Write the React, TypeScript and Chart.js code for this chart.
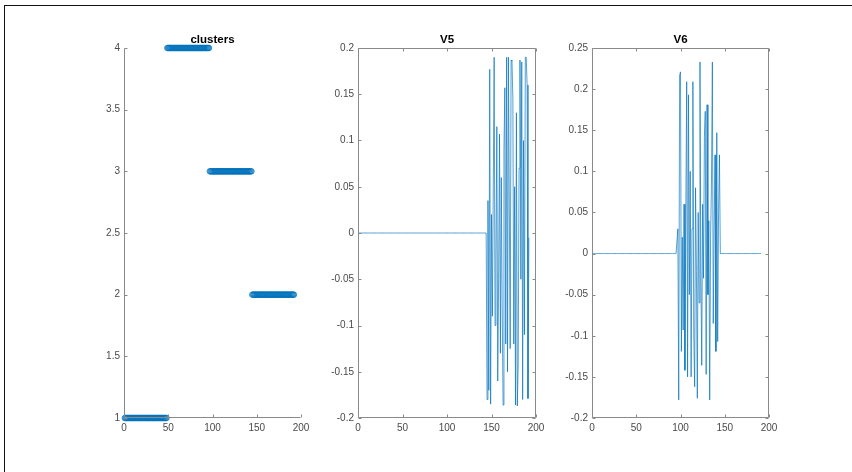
import React, { useEffect, useRef } from "react";
import { Chart, registerables } from "chart.js";

Chart.register(...registerables);

// ---------------- data ----------------
const CLUSTERS: number[] = [
  1,1,1,1,1,1,1,1,1,1,1,1, 1,1,1,1,1,1,1,1,1,1,1,1, 1,1,1,1,1,1,1,1,1,1,1,1, 1,1,1,1,1,1,1,1,1,1,1,1,
  4,4,4,4,4,4,4,4,4,4,4,4, 4,4,4,4,4,4,4,4,4,4,4,4, 4,4,4,4,4,4,4,4,4,4,4,4, 4,4,4,4,4,4,4,4,4,4,4,4,
  3,3,3,3,3,3,3,3,3,3,3,3, 3,3,3,3,3,3,3,3,3,3,3,3, 3,3,3,3,3,3,3,3,3,3,3,3, 3,3,3,3,3,3,3,3,3,3,3,3,
  2,2,2,2,2,2,2,2,2,2,2,2, 2,2,2,2,2,2,2,2,2,2,2,2, 2,2,2,2,2,2,2,2,2,2,2,2, 2,2,2,2,2,2,2,2,2,2,2,2,
];

const V5: number[] = [
  0,0,0,0,0,0,0,0,0,0,0,0, 0,0,0,0,0,0,0,0,0,0,0,0, 0,0,0,0,0,0,0,0,0,0,0,0, 0,0,0,0,0,0,0,0,0,0,0,0,
  0,0,0,0,0,0,0,0,0,0,0,0, 0,0,0,0,0,0,0,0,0,0,0,0, 0,0,0,0,0,0,0,0,0,0,0,0, 0,0,0,0,0,0,0,0,0,0,0,0,
  0,0,0,0,0,0,0,0,0,0,0,0, 0,0,0,0,0,0,0,0,0,0,0,0, 0,0,0,0,0,0,0,0,0,0,0,0, 0,0,0,0,0,0,0,0,0,0,0,0,
  -0.18, 0.035, -0.17, 0.177, -0.185, 0.02, -0.09, 0.05, 0.19, -0.10, -0.03, 0.115,
  -0.16, -0.05, 0.107, -0.13, 0.06, -0.08, -0.186, 0.09, 0.157, -0.12, 0.19, -0.15,
  0.19, 0.03, -0.125, 0.187, 0.186, 0.145, -0.12, 0.05, -0.186, 0.13, -0.187, -0.14,
  0.07, 0.187, -0.05, 0.185, -0.18, 0.10, -0.11, 0.19, 0.19, 0.16, -0.179, -0.005,
];

const V6: number[] = [
  0,0,0,0,0,0,0,0,0,0,0,0, 0,0,0,0,0,0,0,0,0,0,0,0, 0,0,0,0,0,0,0,0,0,0,0,0, 0,0,0,0,0,0,0,0,0,0,0,0,
  0,0,0,0,0,0,0,0,0,0,0,0, 0,0,0,0,0,0,0,0,0,0,0,0, 0,0,0,0,0,0,0,0,0,0,0,0, 0,0,0,0,0,0,0,0,0,0,0,0,
  0.03, -0.178, 0.217, 0.221, -0.119, 0.02, -0.093, 0.06, -0.142, 0.05, 0.209, -0.15,
  0.193, -0.05, 0.10, -0.15, 0.03, 0.209, -0.10, -0.162, 0.08, -0.022, -0.176, 0.05,
  -0.06, 0.233, -0.02, -0.136, 0.06, -0.03, 0.142, 0.173, -0.147, 0.181, -0.05, 0.04,
  -0.178, 0.02, 0.086, 0.233, -0.085, 0.03, 0.12, -0.119, 0.147, -0.107, 0.05, 0.12,
  0,0,0,0,0,0,0,0,0,0,0,0, 0,0,0,0,0,0,0,0,0,0,0,0, 0,0,0,0,0,0,0,0,0,0,0,0, 0,0,0,0,0,0,0,0,0,0,0,0,
];

const INDEX: number[] = CLUSTERS.map((_, i) => i + 1);

const X_TICKS = [0, 50, 100, 150, 200];
const CLUSTER_Y_TICKS = [1, 1.5, 2, 2.5, 3, 3.5, 4];
const V5_Y_TICKS = [-0.2, -0.15, -0.1, -0.05, 0, 0.05, 0.1, 0.15, 0.2];
const V6_Y_TICKS = [-0.2, -0.15, -0.1, -0.05, 0, 0.05, 0.1, 0.15, 0.2, 0.25];

const TITLES = ["clusters", "V5", "V6"];

// ---------------- styling ----------------
const BLUE = "#0072bd";
const AXIS = "#8a8a8a";
const LABEL = "#4a4a4a";
const FONT = "'Liberation Sans', Arial, sans-serif";

const PAD_TOP = 40;
const Y_W = 40;
const PAD_R = 20;
const X_H = 30;

const framePlugin = {
  id: "frame",
  afterDraw(chart: any, _args: any, opts: any) {
    const { ctx, chartArea: a, scales } = chart;
    const x = scales.x;
    const y = scales.y;
    const L = Math.round(a.left) + 0.5;
    const R = Math.round(a.right) - 0.5;
    const T = Math.round(a.top) + 0.5;
    const B = Math.round(a.bottom) - 0.5;
    const tl = 3;
    ctx.save();
    ctx.strokeStyle = AXIS;
    ctx.lineWidth = 1;
    ctx.beginPath();
    ctx.moveTo(L, T);
    ctx.lineTo(L, B);
    ctx.lineTo(R, B);
    if (opts.box) {
      ctx.lineTo(R, T);
      ctx.lineTo(L, T);
    }
    x.ticks.forEach((t: any) => {
      const px = Math.round(x.getPixelForValue(t.value)) + 0.5;
      ctx.moveTo(px, B);
      ctx.lineTo(px, B - tl);
      if (opts.box) {
        ctx.moveTo(px, T);
        ctx.lineTo(px, T + tl);
      }
    });
    y.ticks.forEach((t: any) => {
      const py = Math.round(y.getPixelForValue(t.value)) + 0.5;
      ctx.moveTo(L, py);
      ctx.lineTo(L + tl, py);
      if (opts.box) {
        ctx.moveTo(R, py);
        ctx.lineTo(R - tl, py);
      }
    });
    ctx.stroke();
    ctx.fillStyle = "#000";
    ctx.font = `bold 11.5px ${FONT}`;
    ctx.textAlign = "center";
    ctx.textBaseline = "alphabetic";
    ctx.fillText(opts.title, (a.left + a.right) / 2, a.top - 5);
    ctx.restore();
  },
};

const fmt = (v: number) => String(Number(Number(v).toFixed(4)));

function makeScales(yMin: number, yMax: number, yTicks: number[]) {
  return {
    x: {
      type: "linear",
      min: 0,
      max: 200,
      afterBuildTicks: (s: any) => {
        s.ticks = X_TICKS.map((v) => ({ value: v }));
      },
      afterFit: (s: any) => {
        s.height = X_H;
      },
      grid: { display: false, drawTicks: false },
      border: { display: false },
      ticks: {
        padding: 4,
        color: LABEL,
        font: { family: FONT, size: 10 },
        maxRotation: 0,
        autoSkip: false,
        callback: (v: any) => fmt(v),
      },
    },
    y: {
      type: "linear",
      min: yMin,
      max: yMax,
      afterBuildTicks: (s: any) => {
        s.ticks = yTicks.map((v) => ({ value: v }));
      },
      afterFit: (s: any) => {
        s.width = Y_W;
      },
      grid: { display: false, drawTicks: false },
      border: { display: false },
      ticks: {
        padding: 4,
        color: LABEL,
        font: { family: FONT, size: 10 },
        autoSkip: false,
        callback: (v: any) => fmt(v),
      },
    },
  };
}

type PanelProps = {
  left: number;
  right: number;
  kind: "scatter" | "line";
  values: number[];
  yMin: number;
  yMax: number;
  yTicks: number[];
  title: string;
  box: boolean;
};

function Panel(p: PanelProps) {
  const ref = useRef<HTMLCanvasElement | null>(null);
  const areaTop = 48;
  const areaBottom = 418;
  const width = p.right - p.left + Y_W + PAD_R;
  const height = PAD_TOP + (areaBottom - areaTop) + X_H;

  useEffect(() => {
    const canvas = ref.current;
    if (!canvas) return;
    const points = INDEX.map((x, i) => ({ x, y: p.values[i] }));
    const dataset: any =
      p.kind === "scatter"
        ? {
            type: "scatter",
            data: points,
            showLine: false,
            pointRadius: 2.8,
            pointBorderWidth: 0.8,
            pointBorderColor: BLUE,
            pointBackgroundColor: "rgba(0,114,189,0.1)",
            clip: false,
          }
        : {
            type: "line",
            data: points,
            borderColor: "rgba(0,114,189,0.85)",
            borderWidth: 0.8,
            pointRadius: 0,
            tension: 0,
            fill: false,
          };
    const chart = new Chart(canvas, {
      type: p.kind === "scatter" ? "scatter" : "line",
      data: { datasets: [dataset] },
      options: {
        responsive: false,
        animation: false,
        devicePixelRatio: 1,
        layout: { padding: { top: PAD_TOP, right: PAD_R, left: 0, bottom: 0 } },
        scales: makeScales(p.yMin, p.yMax, p.yTicks) as any,
        plugins: {
          legend: { display: false },
          tooltip: { enabled: false },
          title: { display: false },
          frame: { box: p.box, title: p.title },
        } as any,
      },
      plugins: [framePlugin],
    } as any);
    return () => chart.destroy();
  }, []);

  return (
    <canvas
      ref={ref}
      width={width}
      height={height}
      style={{
        position: "absolute",
        left: p.left - Y_W,
        top: areaTop - PAD_TOP,
        width,
        height,
      }}
    />
  );
}

export default function App() {
  return (
    <div
      style={{
        position: "fixed",
        left: 0,
        top: 0,
        width: 852,
        height: 472,
        background: "#fff",
        overflow: "hidden",
      }}
    >
      <div
        style={{
          position: "absolute",
          left: 4,
          top: 5,
          width: 860,
          height: 480,
          borderLeft: "1px solid #111",
          borderTop: "1px solid #111",
        }}
      />
      <Panel left={124} right={301} kind="scatter" values={CLUSTERS} yMin={1} yMax={4} yTicks={CLUSTER_Y_TICKS} title={TITLES[0]} box={false} />
      <Panel left={358} right={536} kind="line" values={V5} yMin={-0.2} yMax={0.2} yTicks={V5_Y_TICKS} title={TITLES[1]} box={true} />
      <Panel left={592} right={769} kind="line" values={V6} yMin={-0.2} yMax={0.25} yTicks={V6_Y_TICKS} title={TITLES[2]} box={true} />
    </div>
  );
}
